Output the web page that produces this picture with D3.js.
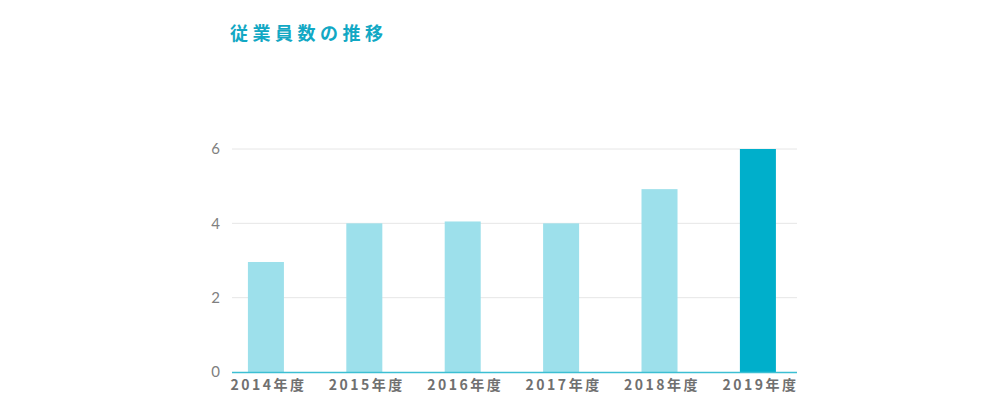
<!DOCTYPE html>
<html>
<head>
<meta charset="utf-8">
<script src="https://cdn.jsdelivr.net/npm/d3@7"></script>
<style>
  body { margin: 0; background: #fff; font-family: "Noto Sans CJK JP", "Noto Sans", sans-serif; }
</style>
</head>
<body>
<div id="chart"></div>
<script>
const years = ["2014年度", "2015年度", "2016年度", "2017年度", "2018年度", "2019年度"];
const employees = [2.96, 4, 4.05, 4, 4.92, 6];
const yTicks = [0, 2, 4, 6];
const highlightYear = "2019年度";

const W = 1000, H = 420;
const margin = { top: 149, right: 203, bottom: 48, left: 232 };
const width = W - margin.left - margin.right;
const height = H - margin.top - margin.bottom;

const svg = d3.select("#chart").append("svg")
    .attr("width", W)
    .attr("height", H);

svg.append("text")
    .attr("x", 230)
    .attr("y", 40)
    .attr("fill", "#12a8c4")
    .style("font-size", "18px")
    .style("font-weight", "bold")
    .style("letter-spacing", "4.5px")
    .text("従業員数の推移");

const g = svg.append("g")
    .attr("transform", `translate(${margin.left}, ${margin.top})`);

const x = d3.scaleBand()
    .domain(years)
    .range([0, width])
    .paddingInner(0.634)
    .paddingOuter(0.188)
    .align(0.43);

const y = d3.scaleLinear()
    .domain([0, 6])
    .range([height, 0]);

// gridlines
g.append("g")
    .selectAll("line")
    .data(yTicks.filter(d => d > 0))
    .enter().append("line")
    .attr("x1", 0)
    .attr("x2", width)
    .attr("y1", d => y(d))
    .attr("y2", d => y(d))
    .attr("stroke", "#e6e6e6")
    .attr("stroke-width", 1);

// y tick labels
g.append("g")
    .call(d3.axisLeft(y).tickValues(yTicks).tickFormat(d3.format("d")).tickSize(0).tickPadding(12))
    .call(a => a.select(".domain").remove())
    .selectAll("text")
    .attr("fill", "#808080")
    .style("font-family", "Lato, 'Noto Sans', sans-serif")
    .style("font-size", "15px");

g.selectAll("rect.bar")
    .data(years)
    .enter().append("rect")
    .attr("class", "bar")
    .attr("x", (d) => x(d))
    .attr("width", x.bandwidth())
    .attr("y", (d, i) => y(employees[i]))
    .attr("height", (d, i) => height - y(employees[i]))
    .attr("fill", d => d === highlightYear ? "#00afcb" : "#9de0eb");

// baseline
g.append("line")
    .attr("x1", 0)
    .attr("x2", width)
    .attr("y1", height + 0.5)
    .attr("y2", height + 0.5)
    .attr("stroke", "#3cbfd3")
    .attr("stroke-width", 1.5);

// x labels
const xAxis = g.append("g")
    .attr("transform", `translate(0, ${height})`)
    .call(d3.axisBottom(x).tickSize(0).tickPadding(8));
xAxis.select(".domain").remove();
xAxis.selectAll("text")
    .attr("dx", "2.5")
    .attr("fill", "#707070")
    .style("font-family", "'Noto Sans CJK JP', sans-serif")
    .style("font-size", "14px")
    .style("font-weight", "bold")
    .style("letter-spacing", "2.5px");
</script>
</body>
</html>
